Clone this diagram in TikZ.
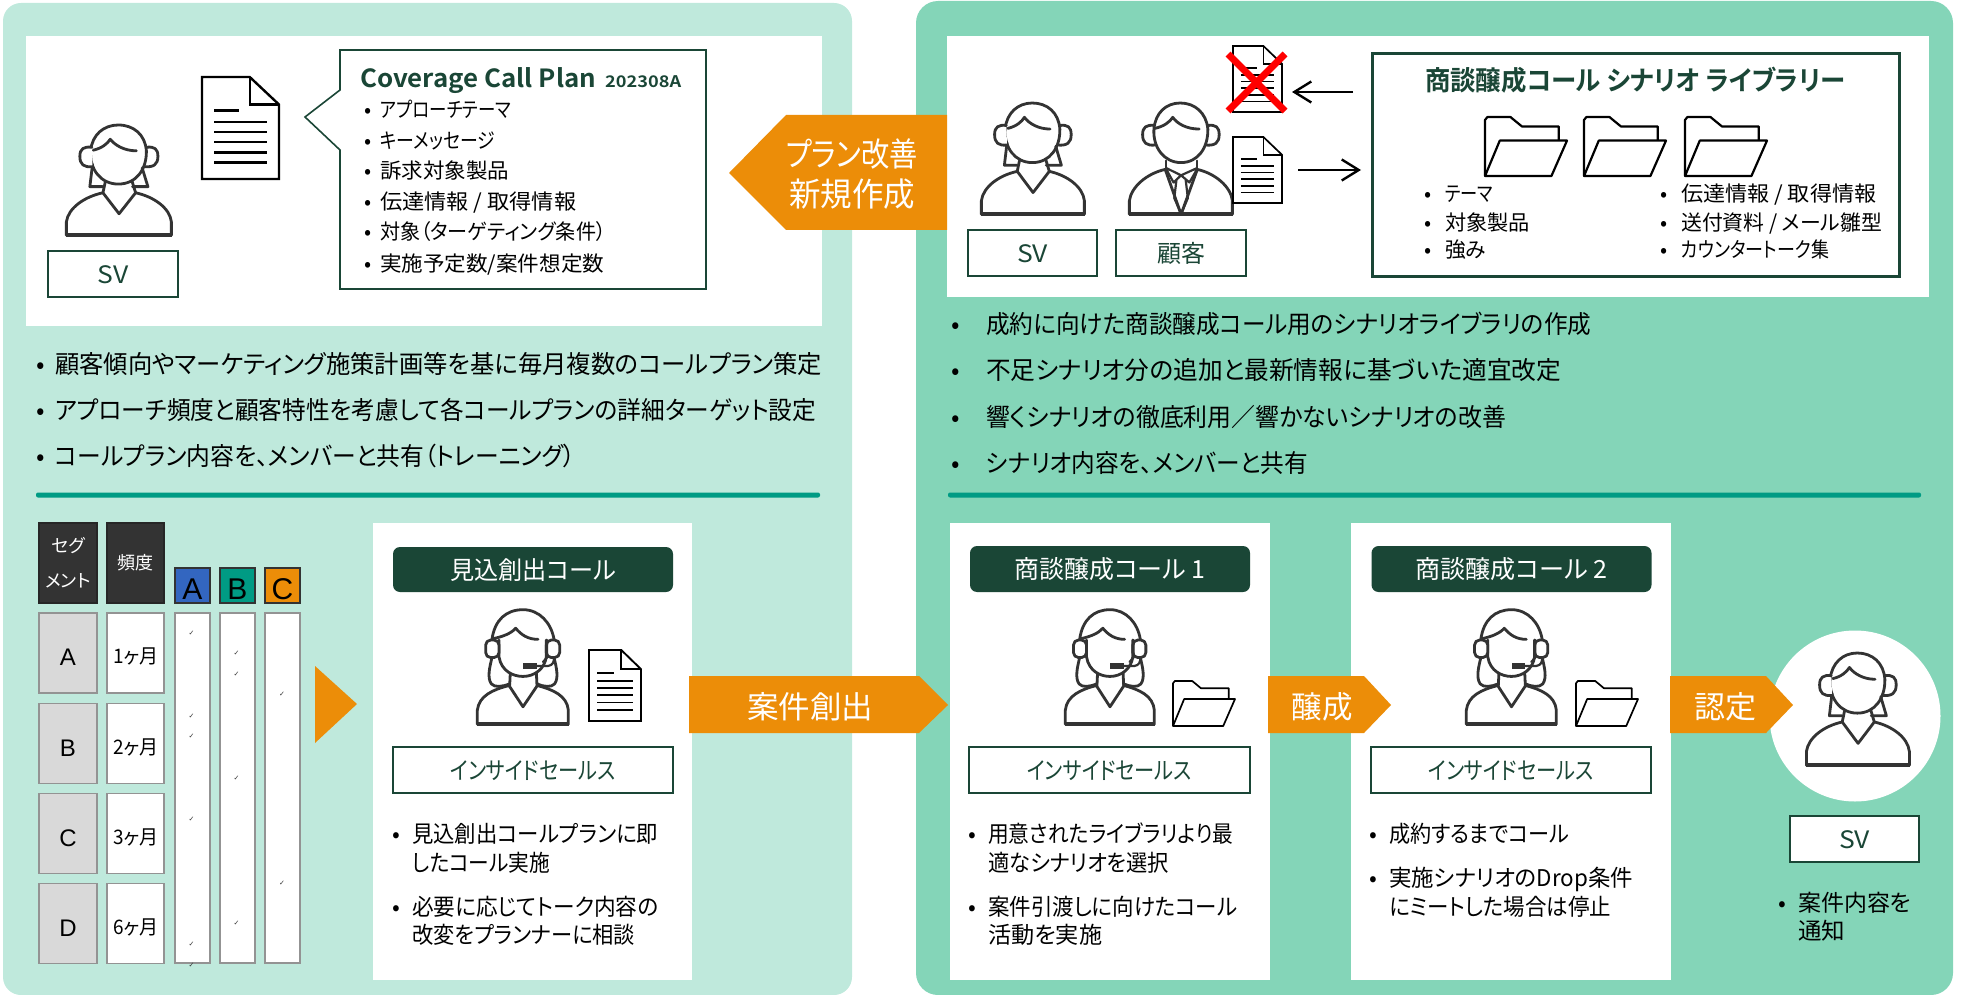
\documentclass[tikz,border=0pt]{standalone}
\usepackage{graphicx}
\usepackage{fontspec}
\usetikzlibrary{arrows.meta}
\setmainfont{Noto Sans CJK JP}[RawFeature=+palt,BoldFont={Noto Sans CJK JP Bold}]
\newfontfamily\arialf{Liberation Sans}
\newfontfamily\dejaf{DejaVu Sans}
\definecolor{lightp}{HTML}{BFE9DC}
\definecolor{darkp}{HTML}{84D5B8}
\definecolor{forest}{HTML}{1A4636}
\definecolor{orangec}{HTML}{EC8D08}
\definecolor{tealc}{HTML}{009B84}
\definecolor{bluec}{HTML}{3366C0}
\definecolor{iconc}{HTML}{333333}
\newcount\txtn
\newsavebox\fitbox
\newcommand{\fs}[1]{\fontsize{#1}{#1}\selectfont}
\newcommand{\fitw}[2]{\sbox\fitbox{#2}\pgfmathsetmacro\fitr{#1/\the\wd\fitbox}\scalebox{\fitr}[1]{\usebox\fitbox}}
\tikzset{
  txt/.style={inner sep=0pt,font=\fs{#1},text height=#1*.88pt,text depth=#1*.12pt},
  boxg/.style={draw=forest,line width=1.6pt,fill=white,text=forest,txt=24},
  head/.style={fill=forest,rounded corners=7pt,text=white,txt=25},
  arrowtext/.style={text=white,txt=#1},
  flow/.style={draw=black,line width=2.4pt,-{Straight Barb[length=17pt,width=21pt,line width=2.4pt]}},
  tbl/.style={draw=gray!85,line width=1.6pt,fill=white,inner sep=0pt},
  ic/.style={draw=iconc,line width=#1,line join=round,line cap=round},
}
% bullet item: dot-x y dx size width text
\newcommand{\bitem}[6]{\global\advance\txtn by 1
  \node[txt=#4,anchor=west] (t\the\txtn) at (#1,#2) {\makebox[#3pt][l]{•}\fitw{#5}{#6}};}
\newcommand{\cont}[5]{\global\advance\txtn by 1
  \node[txt=#3,anchor=west] (t\the\txtn) at (#1,#2) {\fitw{#4}{#5}};}
\newcommand{\chk}[2]{\global\advance\txtn by 1
  \node[inner sep=0pt,font=\dejaf\fs{7},text=iconc] (t\the\txtn) at (#1,#2) {✓};}
% x y w h line
\newcommand{\docicon}[5]{\begin{scope}[xshift=#1pt,yshift=-#2pt,xscale=#3/100,yscale=#4/100]
  \draw[black,fill=white,line width=#5,line join=miter] (0,0)--(62,0)--(100,27)--(100,100)--(0,100)--cycle;
  \draw[black,line width=#5] (62,0)--(62,27)--(100,27);
  \draw[black,line width=#5] (16,33)--(48,33);
  \foreach \yy in {44,54,64,74,84}{\draw[black,line width=#5] (16,\yy)--(84,\yy);}
\end{scope}}
\newcommand{\foldicon}[5]{\begin{scope}[xshift=#1pt,yshift=-#2pt,xscale=#3/100,yscale=#4/100]
  \draw[black,fill=white,line width=#5,line join=round] (0,100)--(0,5)--(3,0)--(31,0)--(45,16)--(90,16)--(90,40);
  \draw[black,fill=white,line width=#5,line join=round] (18,40)--(100,40)--(81,100)--(0,100)--cycle;
\end{scope}}
% bust, coordinates in a 273x347 box beginning at (52,28); #1 neck y, #2 V y
\newcommand{\bust}[2]{%
  \draw[ic=2.8pt,fill=white] (53,370) -- (53,328) .. controls (58,285) and (100,#1+12) .. (148,#1)
     -- (190,#2) -- (233,#1) .. controls (280,#1+12) and (322,285) .. (326,328) -- (326,370) -- cycle;
  \draw[iconc,line width=4pt] (51,370)--(328,370);
}
\newcommand{\womanicon}[4]{\begin{scope}[xshift=#1pt,yshift=-#2pt,xscale=#3/273,yscale=#4/347,shift={(-52,-28)}]
  \bust{238}{303}
  \draw[ic=2.8pt] (148,238)--(154,205) (233,238)--(224,203);
  \draw[ic=2.8pt,fill=white] (116,108) .. controls (120,58) and (150,28) .. (188,28) .. controls (228,28) and (258,58) .. (261,108)
     .. controls (262,165) and (235,211) .. (188,211) .. controls (142,211) and (113,165) .. (116,108) -- cycle;
  \draw[ic=2.8pt] (123,106) .. controls (145,100) and (160,86) .. (167,72) .. controls (180,92) and (205,108) .. (235,108);
  \draw[ic=2.8pt] (121,150) -- (114,219) -- (147,219) (250,161) -- (265,219) -- (225,219);
  \draw[ic=2.8pt,fill=white] (119,97) .. controls (98,94) and (88,102) .. (88,125) .. controls (88,150) and (98,160) .. (121,157);
  \draw[ic=2.8pt] (261,97) .. controls (282,94) and (291,102) .. (291,125) .. controls (291,150) and (280,160) .. (255,157);
\end{scope}}
\newcommand{\headseticon}[4]{\begin{scope}[xshift=#1pt,yshift=-#2pt,xscale=#3/273,yscale=#4/347,shift={(-52,-28)}]
  \draw[ic=2.8pt] (97,172) .. controls (90,200) and (82,232) .. (95,250) .. controls (105,262) and (130,258) .. (150,250);
  \draw[ic=2.8pt] (283,172) .. controls (290,200) and (298,232) .. (285,250) .. controls (275,262) and (250,258) .. (232,250);
  \bust{255}{318}
  \draw[ic=2.8pt] (150,255)--(152,215) (232,255)--(230,215);
  \draw[ic=2.8pt,fill=white] (118,120) -- (118,170) .. controls (125,212) and (160,228) .. (190,228) .. controls (225,228) and (255,205) .. (260,170) -- (260,120);
  \draw[ic=2.8pt] (97,118) .. controls (105,60) and (140,30) .. (190,30) .. controls (240,30) and (275,70) .. (283,118);
  \draw[ic=2.8pt] (100,116) .. controls (130,110) and (155,100) .. (168,85) .. controls (185,105) and (205,118) .. (235,118);
  \draw[ic=2.8pt,fill=white,rounded corners=5pt] (78,120) rectangle (118,172);
  \draw[ic=2.8pt,fill=white,rounded corners=5pt] (260,120) rectangle (300,172);
  \draw[ic=2.2pt] (262,120)--(262,172)--(250,185);
  \fill[iconc] (190,188) rectangle (232,205);
  \draw[ic=2.2pt] (232,197) -- (265,197) .. controls (280,195) and (283,185) .. (283,172);
\end{scope}}
\newcommand{\manicon}[4]{\begin{scope}[xshift=#1pt,yshift=-#2pt,xscale=#3/273,yscale=#4/347,shift={(-52,-28)}]
  \bust{232}{370}
  \draw[ic=2.2pt] (151,205)--(151,232) (232,205)--(232,232);
  \draw[ic=2.2pt] (151,228)--(190,250)--(232,228) (151,232)--(170,272)--(190,250)--(212,272)--(232,232) (178,262)--(172,320)--(190,368)--(208,320)--(202,262);
  \draw[ic=2.8pt,fill=white] (118,108) .. controls (122,58) and (150,28) .. (188,28) .. controls (226,28) and (257,58) .. (261,108)
     .. controls (262,165) and (235,211) .. (190,211) .. controls (145,211) and (115,165) .. (118,108) -- cycle;
  \draw[ic=2.8pt] (120,106) .. controls (145,100) and (160,86) .. (168,72) .. controls (180,92) and (205,108) .. (238,108);
  \draw[ic=2.8pt] (120,97) .. controls (98,94) and (88,102) .. (88,125) .. controls (88,150) and (98,160) .. (122,157);
  \draw[ic=2.8pt] (261,97) .. controls (282,94) and (291,102) .. (291,125) .. controls (291,150) and (280,160) .. (255,157);
\end{scope}}
\begin{document}
\begin{tikzpicture}[x=1pt,y=-1pt]
\useasboundingbox (0,0) rectangle (1962,995);
% panels
\fill[lightp,rounded corners=18pt] (3,3) rectangle (852,995);
\fill[darkp,rounded corners=22pt] (916,1) rectangle (1953,995);
\fill[white] (26,36) rectangle (822,326);
\fill[white] (947,36) rectangle (1929,297);
\fill[tealc,rounded corners=2pt] (36,492.5) rectangle (820,497.5);
\fill[tealc,rounded corners=2pt] (948,492.5) rectangle (1921,497.5);
% plan callout
\draw[forest,line width=1.6pt,fill=white] (340,50)--(706,50)--(706,289)--(340,289)--(340,150)--(305,117)--(340,90)--cycle;
\node[txt=25,anchor=west,text=forest,font=\bfseries\fs{25}] (covt) at (360,78) {\fitw{236}{Coverage Call Plan}\hspace{9pt}{\fs{16}\fitw{76}{202308A}}};
\bitem{364}{110}{16}{21}{131}{アプローチテーマ}
\bitem{364}{141}{16}{21}{115}{キーメッセージ}
\bitem{364}{171}{16}{21}{129}{訴求対象製品}
\bitem{364}{202}{16}{21}{196}{伝達情報 / 取得情報}
\bitem{364}{232}{16}{21}{226}{対象（ターゲティング条件）}
\bitem{364}{264}{16}{21}{224}{実施予定数/案件想定数}
\docicon{202}{77}{77}{102}{2.4pt}
\womanicon{66}{125}{105}{112}
\node[boxg,minimum width=130pt,minimum height=46pt] (sv1) at (113,274) {\fitw{31}{SV}};
% plan arrow
\fill[orangec] (729,173)--(786,115)--(947,115)--(947,230)--(786,230)--cycle;
\node[arrowtext=33] (pa1) at (852,154) {\fitw{132}{プラン改善}};
\node[arrowtext=33] (pa2) at (852,194) {\fitw{126}{新規作成}};
% left bullets
\bitem{36}{364}{19}{25}{767}{顧客傾向やマーケティング施策計画等を基に毎月複数のコールプラン策定}
\bitem{36}{410}{19}{25}{761}{アプローチ頻度と顧客特性を考慮して各コールプランの詳細ターゲット設定}
\bitem{36}{456}{19}{25}{520}{コールプラン内容を、メンバーと共有（トレーニング）}
% right top
\womanicon{981}{103}{103}{113}
\manicon{1129}{103}{103}{113}
\node[boxg,minimum width=129pt,minimum height=46pt] (sv2) at (1032.5,253) {\fitw{31}{SV}};
\node[boxg,minimum width=130pt,minimum height=46pt] (kk) at (1181,253) {顧客};
\docicon{1233}{46}{49}{66}{1.7pt}
\draw[red,line width=7pt] (1228,54)--(1285,111) (1285,54)--(1228,111);
\docicon{1233}{137}{49}{66}{1.7pt}
\node[draw=forest,line width=3pt,fill=white,minimum width=527pt,minimum height=222pt,inner sep=0pt] (lib) at (1635.5,165) {};
\node[txt=27,text=forest,font=\bfseries\fs{27}] (libt) at (1635,80) {\fitw{420}{商談醸成コール シナリオ ライブラリー}};
\coordinate (a1s) at (1353,92);
\coordinate (a1e) at (1292,92);
\coordinate (a2s) at (1298,170);
\coordinate (a2e) at (1361,170);
\draw[flow] (a1s)--(a1e);
\draw[flow] (a2s)--(a2e);
\foldicon{1485}{117}{82}{59}{2.2pt}
\foldicon{1584}{117}{82}{59}{2.2pt}
\foldicon{1685}{117}{82}{59}{2.2pt}
\bitem{1424}{194}{21}{21}{48}{テーマ}
\bitem{1424}{223}{21}{21}{85}{対象製品}
\bitem{1424}{250}{21}{21}{41}{強み}
\bitem{1660}{194}{21}{21}{195}{伝達情報 / 取得情報}
\bitem{1660}{223}{21}{21}{201}{送付資料 / メール雛型}
\bitem{1660}{250}{21}{21}{148}{カウンタートーク集}
\bitem{951}{324}{35}{25}{605}{成約に向けた商談醸成コール用のシナリオライブラリの作成}
\bitem{951}{370}{35}{25}{575}{不足シナリオ分の追加と最新情報に基づいた適宜改定}
\bitem{951}{417}{35}{25}{520}{響くシナリオの徹底利用／響かないシナリオの改善}
\bitem{951}{463}{35}{25}{322}{シナリオ内容を、メンバーと共有}
% table
\node[fill=iconc,draw=black!85,line width=1.4pt,text=white,minimum width=58pt,minimum height=80pt,inner sep=0pt,align=center,font=\fs{18}] (hseg) at (68,563) {セグ\\[17pt]メント};
\node[fill=iconc,draw=black!85,line width=1.4pt,text=white,minimum width=57pt,minimum height=80pt,inner sep=0pt,font=\fs{18}] (hfr) at (135.5,563) {頻度};
\tikzset{hlet/.style={draw=black!80,line width=1.4pt,minimum width=35pt,minimum height=35pt,inner sep=0pt,font=\arialf\fs{30},text height=28.6pt,text depth=0pt}}
\node[fill=bluec,hlet] (ca) at (192.5,585.5) {A};
\node[fill=tealc,hlet] (cb) at (237.5,585.5) {B};
\node[fill=orangec,hlet] (cc) at (282.5,585.5) {C};
\foreach \nm/\yy/\lb/\fq in {a/653/A/1,b/743.5/B/2,c/833.5/C/3,d/923.5/D/6}{
  \node[tbl,fill=black!15,minimum width=58pt,minimum height=80pt,font=\arialf\fs{24},text height=25.4pt,text depth=0pt] (seg\nm) at (68,\yy) {\lb};
  \node[tbl,minimum width=57pt,minimum height=80pt,font=\fs{20},text height=21.2pt,text depth=0pt] (fr\nm) at (135.5,\yy) {\fitw{45}{\fq ヶ月}};
}
\foreach \nm/\xx in {a/192.5,b/237.5,c/282.5}{
  \node[tbl,minimum width=35pt,minimum height=350pt] (col\nm) at (\xx,788) {};
}
\foreach \yy in {633,716,736,819,944,965}{\chk{191.5}{\yy}}
\foreach \yy in {653,674,778,923}{\chk{236.5}{\yy}}
\foreach \yy in {694,883}{\chk{282}{\yy}}
\fill[orangec] (315,666)--(357,704)--(315,743)--cycle;
% cards
\fill[white] (373,523) rectangle (692,980);
\fill[white] (950,523) rectangle (1270,980);
\fill[white] (1351,523) rectangle (1671,980);
\node[head,minimum width=280pt,minimum height=45pt] (h1) at (533,569.5) {\fitw{166}{見込創出コール}};
\node[head,minimum width=280pt,minimum height=46pt] (h2) at (1110,569) {\fitw{191}{商談醸成コール 1}};
\node[head,minimum width=280pt,minimum height=46pt] (h3) at (1511.5,569) {\fitw{192}{商談醸成コール 2}};
\headseticon{477}{609}{91}{117}
\docicon{589}{650}{52}{71}{1.9pt}
\headseticon{1065}{609}{89}{117}
\foldicon{1173}{681}{62}{45}{1.7pt}
\headseticon{1466}{609}{90}{117}
\foldicon{1576}{681}{62}{45}{1.7pt}
\node[boxg,minimum width=280pt,minimum height=46pt] (is1) at (533,770) {\fitw{165}{インサイドセールス}};
\node[boxg,minimum width=281pt,minimum height=46pt] (is2) at (1109.5,770) {\fitw{165}{インサイドセールス}};
\node[boxg,minimum width=280pt,minimum height=46pt] (is3) at (1511,770) {\fitw{165}{インサイドセールス}};
\bitem{392}{834}{20}{23}{246}{見込創出コールプランに即}
\cont{412}{863}{23}{138}{したコール実施}
\bitem{392}{907}{20}{23}{246}{必要に応じてトーク内容の}
\cont{412}{935}{23}{223}{改変をプランナーに相談}
\bitem{968}{834}{20}{23}{245}{用意されたライブラリより最}
\cont{988}{863}{23}{181}{適なシナリオを選択}
\bitem{968}{907}{20}{23}{249}{案件引渡しに向けたコール}
\cont{988}{935}{23}{114}{活動を実施}
\bitem{1369}{834}{20}{23}{180}{成約するまでコール}
\bitem{1369}{878}{20}{23}{244}{実施シナリオのDrop条件}
\cont{1389}{907}{23}{222}{にミートした場合は停止}
% SV circle
\node[circle,fill=white,minimum size=171pt,inner sep=0pt] (circ) at (1855,716) {};
\womanicon{1806}{653}{103}{114}
\node[boxg,minimum width=129pt,minimum height=46pt] (sv3) at (1854.5,839) {\fitw{31}{SV}};
\bitem{1778}{903}{20}{23}{113}{案件内容を}
\cont{1798}{931}{23}{47}{通知}
% flow arrows
\fill[orangec] (689,676)--(919,676)--(948,705)--(919,733)--(689,733)--cycle;
\node[arrowtext=31] (fa1) at (810,707) {\fitw{126}{案件創出}};
\fill[orangec] (1268,676)--(1364,676)--(1391,705)--(1364,733)--(1268,733)--cycle;
\node[arrowtext=31] (fa2) at (1322,707) {\fitw{61}{醸成}};
\fill[orangec] (1670,676)--(1766,676)--(1793,705)--(1766,733)--(1670,733)--cycle;
\node[arrowtext=31] (fa3) at (1725,707) {\fitw{62}{認定}};
\end{tikzpicture}
\end{document}
